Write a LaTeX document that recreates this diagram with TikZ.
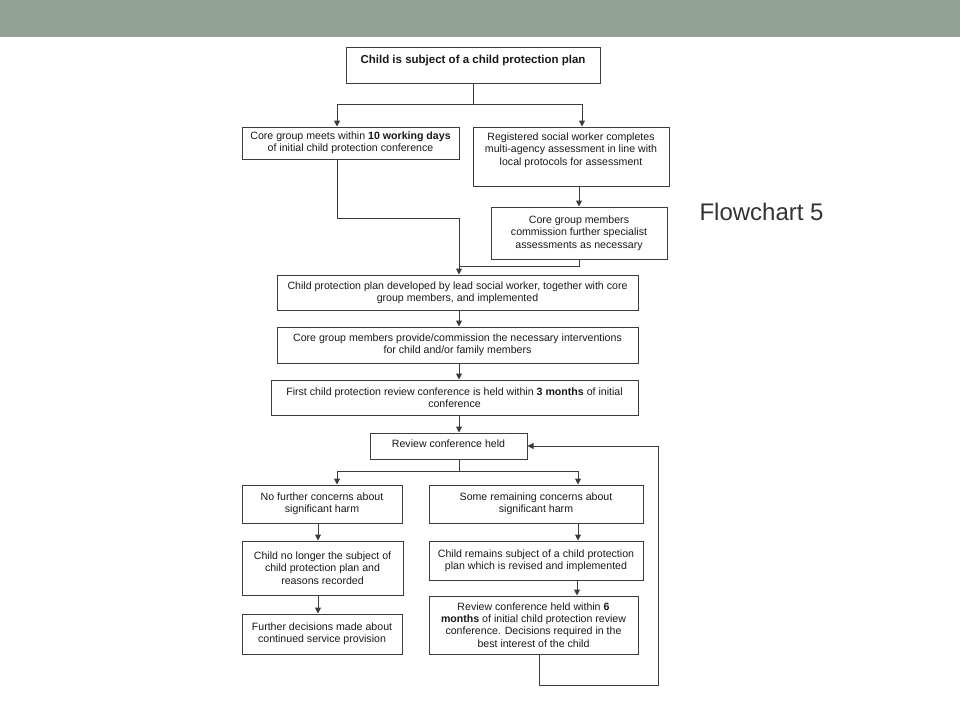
\documentclass[tikz,border=0pt]{standalone}
\usepackage{fontspec}
\setmainfont{Liberation Sans}
\usetikzlibrary{arrows.meta,calc}

\definecolor{bandgreen}{RGB}{146,162,151}
\definecolor{linegray}{RGB}{60,60,60}
\definecolor{titlegray}{RGB}{51,51,51}

\tikzset{every picture/.style={line width=1pt}}
\tikzset{
  box/.style={draw=linegray, align=center, inner sep=2pt, text=black!90,
    font=\fontsize{10.6}{12.3}\selectfont},
  upper/.style={inner ysep=0pt, text height=#1},
  arr/.style={draw=linegray, -{Triangle[length=6pt,width=6pt]}},
  link/.style={draw=linegray}
}

\begin{document}
\begin{tikzpicture}[x=1pt,y=1pt,yscale=-1,xscale=1]
\useasboundingbox (0,0) rectangle (960,720);

%Shape: Rectangle (top band)
\fill[bandgreen] (0,0) rectangle (960,37);

% spine of the chart
\coordinate (spine) at (459,0);

% Text Node
\node[box, minimum width=254, upper=16pt, text depth=20pt, font=\fontsize{11.5}{13}\selectfont] (plan) at (473,65)
  {\textbf{Child is subject of a child protection plan}};
% Text Node
\node[box, minimum width=217, minimum height=32] (meets) at (350.5,143)
  {Core group meets within \textbf{10 working days}\\of initial child protection conference};
% Text Node
\node[box, minimum width=196, upper=38pt, text depth=21pt] (assess) at (571,156.5)
  {Registered social worker completes\\multi-agency assessment in line with\\local protocols for assessment};
% Text Node
\node[box, minimum width=176, minimum height=52] (special) at (579,233)
  {Core group members\\commission further specialist\\assessments as necessary};
% Text Node
\node[box, minimum width=361, minimum height=35] (develop) at (457.5,292.5)
  {Child protection plan developed by lead social worker, together with core\\group members, and implemented};
% Text Node
\node[box, minimum width=361, minimum height=36] (interv) at (457.5,345)
  {Core group members provide/commission the necessary interventions\\for child and/or family members};
% Text Node
\node[box, minimum width=367, minimum height=35] (first) at (454.5,397.5)
  {First child protection review conference is held within \textbf{3 months} of initial\\conference};
% Text Node
\node[box, minimum width=157, upper=14pt, text depth=12pt] (review) at (448.5,446)
  {Review conference held};
% Text Node
\node[box, minimum width=160, minimum height=38] (nofurther) at (322,504)
  {No further concerns about\\significant harm};
% Text Node
\node[box, minimum width=214, minimum height=38] (remain) at (536,504)
  {Some remaining concerns about\\significant harm};
% Text Node
\node[box, minimum width=161, minimum height=54] (nolonger) at (322.5,568)
  {Child no longer the subject of\\child protection plan and\\reasons recorded};
% Text Node
\node[box, minimum width=214, minimum height=39] (revised) at (536,560.5)
  {Child remains subject of a child protection\\plan which is revised and implemented};
% Text Node
\node[box, minimum width=160, minimum height=40] (further) at (322,634)
  {Further decisions made about\\continued service provision};
% Text Node
\node[box, minimum width=209, minimum height=58] (sixmonths) at (533.5,625)
  {Review conference held within \textbf{6}\\\textbf{months} of initial child protection review\\conference. Decisions required in the\\best interest of the child};

% Text Node
\node[anchor=west, text=titlegray, font=\fontsize{24}{28}\selectfont, inner sep=0pt] (label) at (699,212) {Flowchart 5};

% first split
\draw[link] (plan.south) -- ++(0,21) coordinate (split1);
\draw[arr] (split1) -| ([xshift=-13.5]meets.north);
\draw[arr] (split1) -| ([xshift=11]assess.north);
% into the plan
\draw[arr] ([xshift=-13.5]meets.south) -- ++(0,59) -| (develop.north -| spine);
\draw[arr] (assess.south -| special.north) -- (special.north);
\draw[link] (special.south) |- ([yshift=-8]develop.north -| spine);
% down the spine
\draw[arr] (develop.south -| spine) -- (interv.north -| spine);
\draw[arr] (interv.south -| spine) -- (first.north -| spine);
\draw[arr] (first.south -| spine) -- (review.north -| spine);
% second split
\draw[link] (review.south -| spine) -- ++(0,12) coordinate (split2);
\draw[arr] (split2) -| ([xshift=15]nofurther.north);
\draw[arr] (split2) -| ([xshift=42]remain.north);
% left column
\draw[arr] ([xshift=-4]nofurther.south) -- ([xshift=-4]nofurther.south |- nolonger.north);
\draw[arr] ([xshift=-4.5]nolonger.south) -- ([xshift=-4.5]nolonger.south |- further.north);
% right column
\draw[arr] ([xshift=42]remain.south) -- ([xshift=42]remain.south |- revised.north);
\draw[arr] ([xshift=41]revised.south) -- ([xshift=41]revised.south |- sixmonths.north);
% back to review
\coordinate (loop) at (658,685);
\draw[arr] ([xshift=5.5]sixmonths.south) |- (loop) |- (review.east);

\end{tikzpicture}
\end{document}
